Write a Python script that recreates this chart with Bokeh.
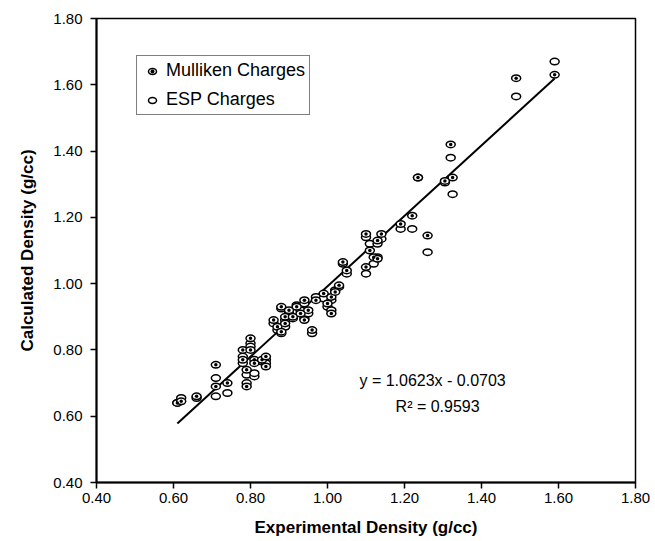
from bokeh.plotting import figure
from bokeh.models import Range1d, FixedTicker, NumeralTickFormatter, Legend, LegendItem, Label, ColumnDataSource
from bokeh.embed import file_html
from bokeh.resources import INLINE

# ---- data ----
exp_density = [0.61, 0.62, 0.66, 0.71, 0.71, 0.74, 0.78, 0.78, 0.79, 0.79,
               0.80, 0.80, 0.81, 0.81, 0.83, 0.84, 0.84, 0.86, 0.87, 0.88,
               0.88, 0.89, 0.89, 0.90, 0.91, 0.92, 0.93, 0.94, 0.94, 0.95,
               0.96, 0.97, 0.99, 1.00, 1.01, 1.01, 1.02, 1.03, 1.04, 1.05,
               1.10, 1.10, 1.11, 1.12, 1.13, 1.14, 1.13, 1.19, 1.22, 1.235,
               1.26, 1.305, 1.32, 1.325, 1.49, 1.59]
mulliken_calc = [0.64, 0.645, 0.66, 0.755, 0.69, 0.70, 0.80, 0.77, 0.74, 0.69,
                 0.835, 0.80, 0.77, 0.76, 0.77, 0.78, 0.75, 0.89, 0.87, 0.93,
                 0.855, 0.90, 0.88, 0.92, 0.90, 0.93, 0.91, 0.95, 0.89, 0.92,
                 0.86, 0.95, 0.97, 0.94, 0.91, 0.96, 0.975, 0.995, 1.065, 1.04,
                 1.15, 1.05, 1.10, 1.08, 1.13, 1.15, 1.075, 1.18, 1.205, 1.32,
                 1.145, 1.31, 1.42, 1.32, 1.62, 1.63]
esp_calc = [0.64, 0.655, 0.655, 0.715, 0.66, 0.67, 0.78, 0.76, 0.725, 0.70,
            0.82, 0.81, 0.72, 0.73, 0.765, 0.77, 0.76, 0.88, 0.86, 0.925,
            0.85, 0.89, 0.87, 0.91, 0.895, 0.935, 0.92, 0.94, 0.895, 0.91,
            0.85, 0.96, 0.955, 0.93, 0.92, 0.95, 0.98, 0.99, 1.06, 1.03,
            1.14, 1.03, 1.12, 1.06, 1.12, 1.135, 1.08, 1.165, 1.165, 1.32,
            1.095, 1.305, 1.38, 1.27, 1.565, 1.67]
fit_slope = 1.0623
fit_intercept = -0.0703
fit_x = [0.61, 1.59]
axis_ticks = [0.40, 0.60, 0.80, 1.00, 1.20, 1.40, 1.60, 1.80]
series_names = ["Mulliken Charges", "ESP Charges"]
equation_text = "y = 1.0623x - 0.0703"
r2_text = "R\u00b2 = 0.9593"

FONT = "Liberation Sans"

p = figure(width=655, height=541, output_backend="svg", toolbar_location=None,
           x_range=Range1d(0.4, 1.8), y_range=Range1d(0.4, 1.8),
           min_border_left=96, min_border_right=20, min_border_top=18, min_border_bottom=59)
p.grid.visible = False
p.outline_line_color = "black"
p.outline_line_width = 1.5
p.background_fill_color = "white"
p.border_fill_color = "white"

for ax in (p.xaxis[0], p.yaxis[0]):
    ax.ticker = FixedTicker(ticks=axis_ticks)
    ax.formatter = NumeralTickFormatter(format="0.00")
    ax.axis_line_width = 2
    ax.axis_line_color = "black"
    ax.major_tick_line_color = "black"
    ax.major_tick_line_width = 1.5
    ax.major_tick_out = 6
    ax.major_tick_in = 0
    ax.minor_tick_line_color = None
    ax.major_label_text_font = FONT
    ax.major_label_text_font_size = "15px"
    ax.major_label_text_color = "black"
    ax.axis_label_text_font = FONT
    ax.axis_label_text_font_size = "17px"
    ax.axis_label_text_font_style = "bold"
    ax.axis_label_text_color = "black"

p.xaxis.axis_label = "Experimental Density (g/cc)"
p.yaxis.axis_label = "Calculated Density (g/cc)"
p.xaxis.major_label_standoff = 4
p.xaxis.axis_label_standoff = 12
p.yaxis.major_label_standoff = 8
p.yaxis.axis_label_standoff = 13

# fit line
fit_y = [fit_slope * x + fit_intercept for x in fit_x]
p.line(fit_x, fit_y, line_color="black", line_width=2)

src = ColumnDataSource(dict(x=exp_density, m=mulliken_calc, e=esp_calc))
e_r = p.ellipse(x="x", y="e", width=9, height=6.5, width_units="screen", height_units="screen",
                source=src, fill_color="white", line_color="black", line_width=1.5)
m_r = p.ellipse(x="x", y="m", width=9, height=6.5, width_units="screen", height_units="screen",
                source=src, fill_color="white", line_color="black", line_width=1.5)
m_dot = p.scatter(x="x", y="m", size=3.5, marker="circle", source=src,
                  fill_color="black", line_color=None)

legend = Legend(items=[LegendItem(label=series_names[0], renderers=[m_r, m_dot]),
                       LegendItem(label=series_names[1], renderers=[e_r])],
                location=(40, 367), orientation="vertical",
                label_text_font=FONT, label_text_font_size="18px", label_text_color="black",
                glyph_width=22, glyph_height=10, label_height=20, label_standoff=3,
                spacing=8, padding=4, margin=0,
                border_line_color="black", border_line_width=1.5,
                background_fill_color="white", background_fill_alpha=1)
p.add_layout(legend, "center")

p.add_layout(Label(x=1.273, y=0.708, text=equation_text, text_align="center", text_baseline="middle",
                   text_font=FONT, text_font_size="16px", text_color="black"))
p.add_layout(Label(x=1.286, y=0.630, text=r2_text, text_align="center", text_baseline="middle",
                   text_font=FONT, text_font_size="16px", text_color="black"))

open("out.html", "w").write(file_html(p, INLINE))
